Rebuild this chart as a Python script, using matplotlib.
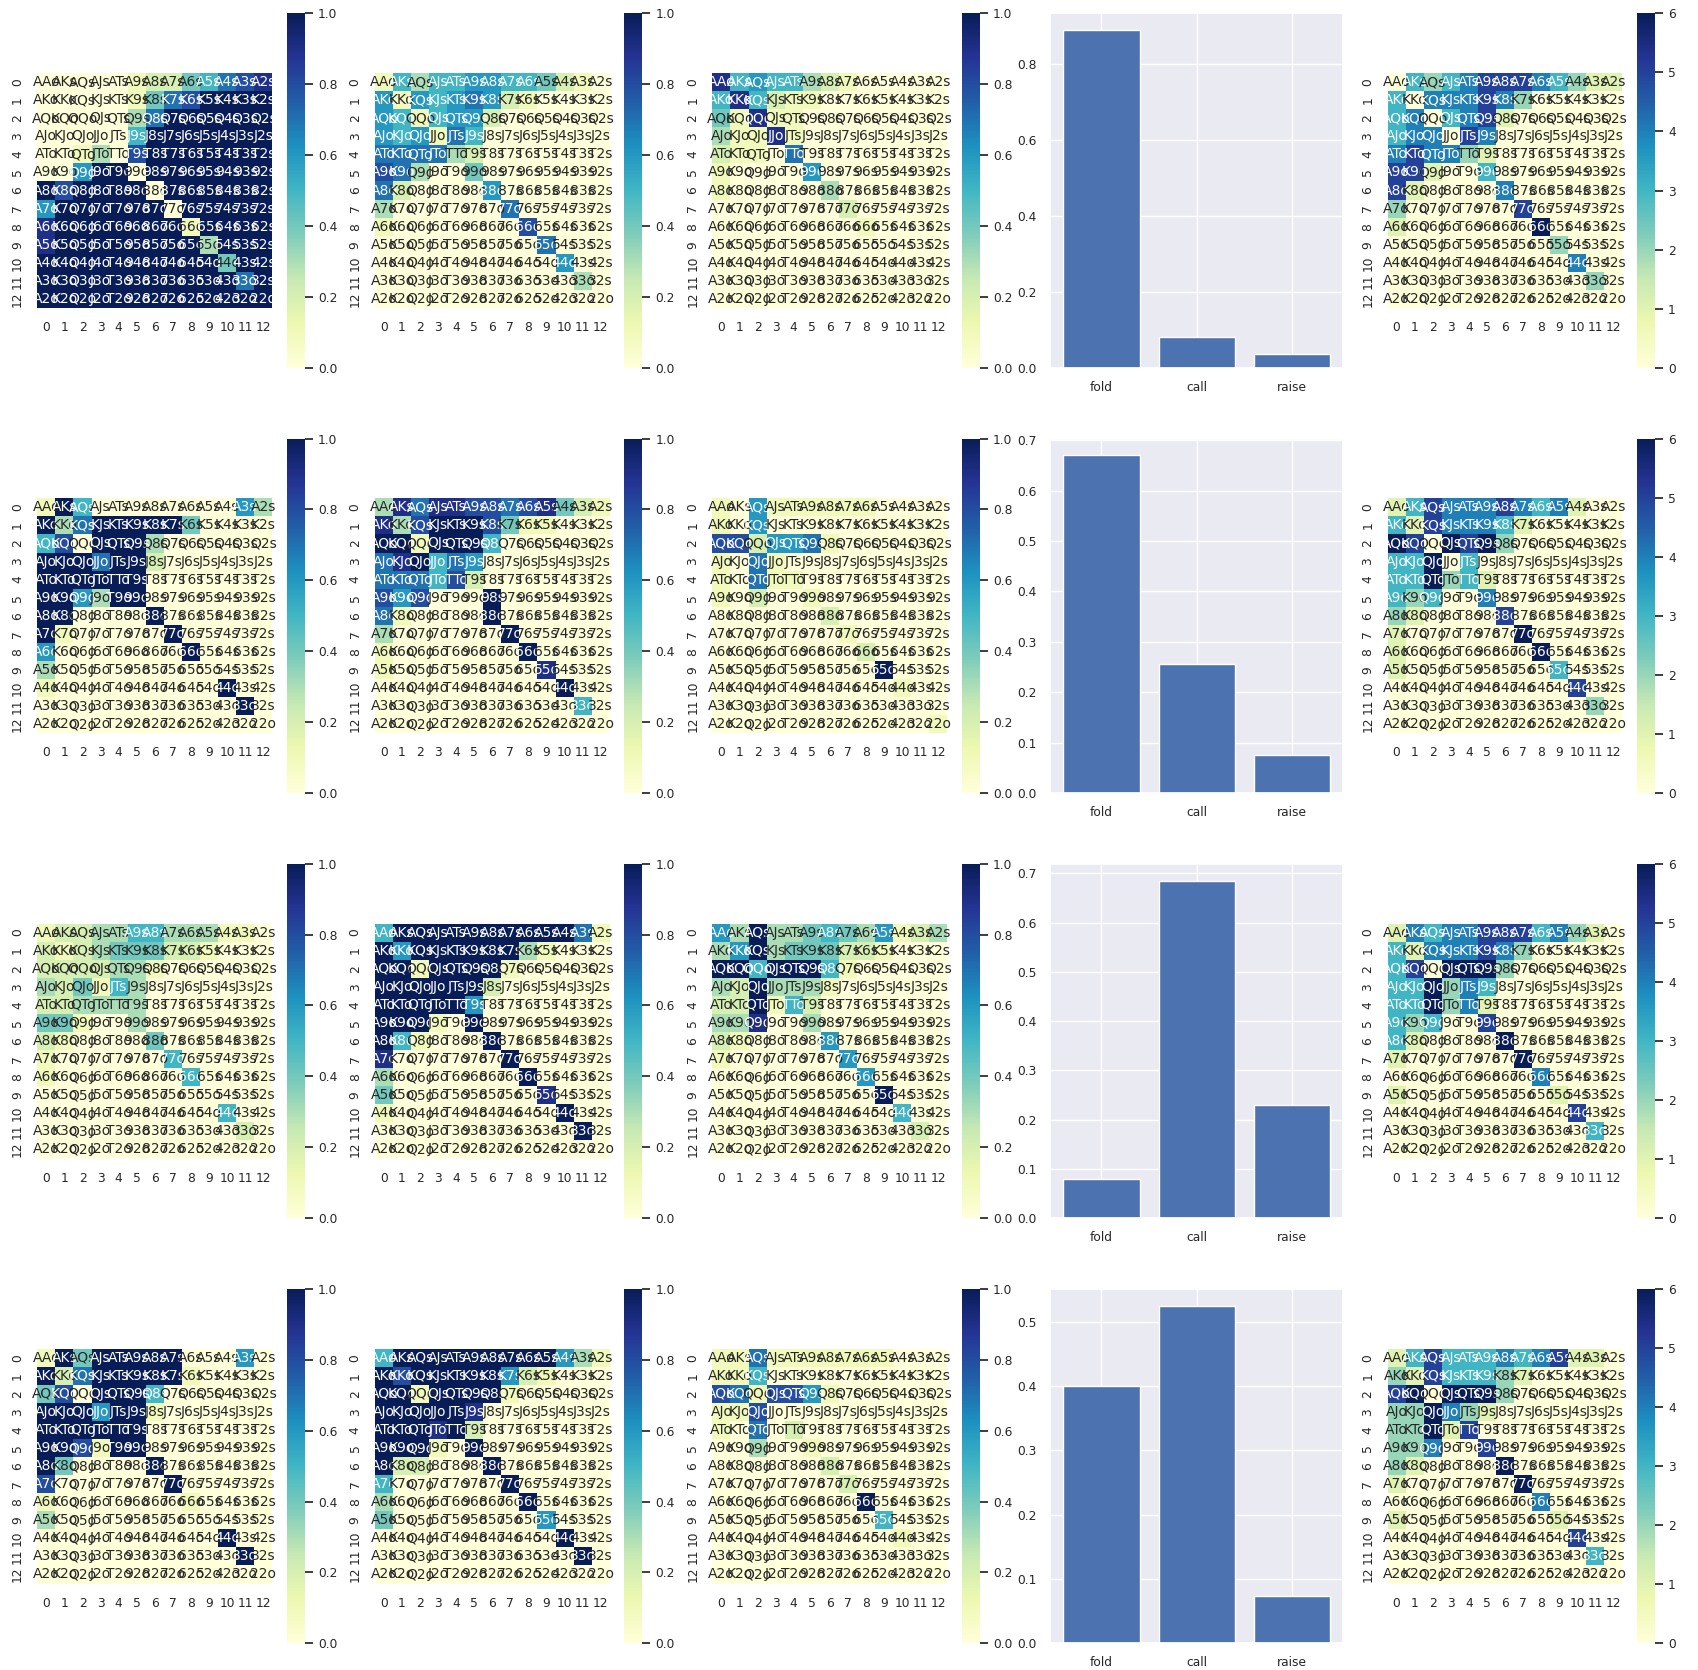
import numpy as np
import matplotlib
matplotlib.use("Agg")
import matplotlib.pyplot as plt
from matplotlib.ticker import FormatStrFormatter
import seaborn as sns

sns.set_theme(font_scale=0.8)

ranks = "AKQJT98765432"
actions = ["fold", "call", "raise"]

# Probability grids, tenths ('X' = 1.0), one string per row of 13 hands
row1_fold = ["0000012245789","000001478XXXX","0000037XXXXXX","000005XXXXXXX","001308XXXXXXX",
             "006XX0XXXXXXX","X8XXXX0XXXXXX","6XXXXXX0XXXXX","9XXXXXXX1XXXX","9XXXXXXXX3XXX",
             "XXXXXXXXXX4XX","XXXXXXXXXXX7X","XXXXXXXXXXXXX"]
row1_call = ["1535566554210","6165676210000","6515662000000","6561750000000","7777320000000",
             "8730040000000","7200006000000","3000000700000","1000000080000","0000000007000",
             "0000000000600","0000000000030","0000000000000"]
row1_raise = ["9565532100000","5952110000000","4191100000000","3119100000000","2110700000000",
              "1000060000000","1000003000000","0000000200000","0000000010000","0000000000000",
              "0000000000000","0000000000000","0000000000000"]
row2_a = ["1X50000000063","X37XXXXX40000","580XXX3000000","XXX7XX2000000","XXXXXX0000000",
          "XX63XX0000000","XX0000X000000","X100000X00000","60000000X0000","3000000000000",
          "1000000000X00","00000000000X0","0000000000000"]
row2_b = ["3979988789421","938XXX8411000","XX1XXX5000000","79X5760000000","7775820000000",
          "868000X000000","710000X000000","3000000X00000","10000000X0000","1000000009000",
          "0000000000X00","0000000000050","0000000000000"]
row2_c = ["1061111110000","1060000000000","8826671000000","1071000000000","1071100000000",
          "1020010000000","0000002000000","0000000100000","0000000020000","000000000X000",
          "0000000000100","0000000000000","0000000000001"]
row3_a = ["1223355333110","2123444221000","2222331000000","3241530000000","2233330000000",
          "4410030000000","2100004000000","1000000500000","1000000050000","0000000000000",
          "0000000000500","0000000000020","0000000000000"]
row3_b = ["5XXXXXXXXXX71","X6XXXXXX31000","XX1XXXX100000","XXXXXX2000000","XXXXX60000000",
          "XXX10X0000000","X51000X000000","9000000X00000","30000000X0000","4000000009000",
          "1000000000X00","00000000000X0","0000000000000"]
row3_c = ["63X3345436123","36X3444221000","XX5XXX5100000","32X3331000000","22X1520000000",
          "3390030000000","2100006000000","1000000600000","0000000060000","000000000X000",
          "0000000000500","0000000000020","0000000000000"]
row4_a = ["1X4XXXXX00060","X27XXXXX10000","480XXX5000000","XXX6XX1000000","XXXXXX0000000",
          "XX81XX0000000","X40000X000000","8000000X00000","1000000010000","3000000000000",
          "0000000000X00","00000000000X0","0000000000000"]
row4_b = ["5XXXXXXXXX631","X8XXXXX621000","XX1XXXX100000","XXXXX90000000","XXX9X20000000",
          "XXX10X0000000","X22000X000000","5000000X00000","30000000X0000","4000000006000",
          "0000000000X00","00000000000X0","0000000000000"]
row4_c = ["1171111111000","1150000000000","8718861000000","1180000000000","1070200000000",
          "0030010000000","0000002000000","0000000200000","00000000X0000","0000000005000",
          "0000000000100","0000000000000","0000000000000"]

# Count grids (0-6)
row1_count = ["0323455543211","3044454200000","3403451000000","3440540000000","4544210000000",
              "5510030000000","5100004000000","2000000500000","1000000060000","0000000002000",
              "0000000000400","0000000000020","0000000000000"]
row2_count = ["1354445434100","3154443100000","6506562000000","3360300000000","3362310000000",
              "3230040000000","2100005000000","1000000600000","1000000060000","1000000003000",
              "0000000000500","0000000000020","0000000000000"]
row3_count = ["1434455534210","3144454200000","3506662000000","3362430000000","3362410000000",
              "3230050000000","3100006000000","1000000600000","0000000040000","1000000001000",
              "0000000000500","0000000000030","0000000000000"]
row4_count = ["1353334345110","2153332100000","5606662000000","2264210000000","2261500000000",
              "2240050000000","2100006000000","1000000600000","0000000040000","1000000001000",
              "0000000000500","0000000000030","0000000000000"]

bars = [[0.89, 0.08, 0.035], [0.67, 0.255, 0.075], [0.08, 0.685, 0.23], [0.40, 0.525, 0.073]]

rows = [
    (row1_fold, row1_call, row1_raise, row1_count),
    (row2_a, row2_b, row2_c, row2_count),
    (row3_a, row3_b, row3_c, row3_count),
    (row4_a, row4_b, row4_c, row4_count),
]

def parse_prob(g):
    return np.array([[1.0 if c == "X" else int(c) / 10 for c in r] for r in g])

def parse_count(g):
    return np.array([[int(c) for c in r] for r in g], dtype=float)

labels = np.empty((13, 13), dtype=object)
for i in range(13):
    for j in range(13):
        if j > i:
            labels[i, j] = ranks[i] + ranks[j] + "s"
        else:
            labels[i, j] = ranks[j] + ranks[i] + "o"

fig, axes = plt.subplots(4, 5, figsize=(16.98, 16.7), dpi=100)
plt.subplots_adjust(left=0.022, right=0.99, top=0.992, bottom=0.016, wspace=0.15, hspace=0.2)

def hm(ax, data, vmax):
    sns.heatmap(data, ax=ax, cmap="YlGnBu", vmin=0, vmax=vmax,
                annot=labels, fmt="", square=True, annot_kws={"size": 10})
    ax.set_xticklabels([str(i) for i in range(13)], rotation=0)
    ax.set_yticklabels([str(i) for i in range(13)], rotation=90, va="center")

for r, (a, b, c, cnt) in enumerate(rows):
    for k, g in enumerate((a, b, c)):
        hm(axes[r, k], parse_prob(g), 1)
    axes[r, 3].bar(actions, bars[r])
    axes[r, 3].yaxis.set_major_formatter(FormatStrFormatter("%.1f"))
    hm(axes[r, 4], parse_count(cnt), 6)

fig.savefig("out.png", dpi=100)
